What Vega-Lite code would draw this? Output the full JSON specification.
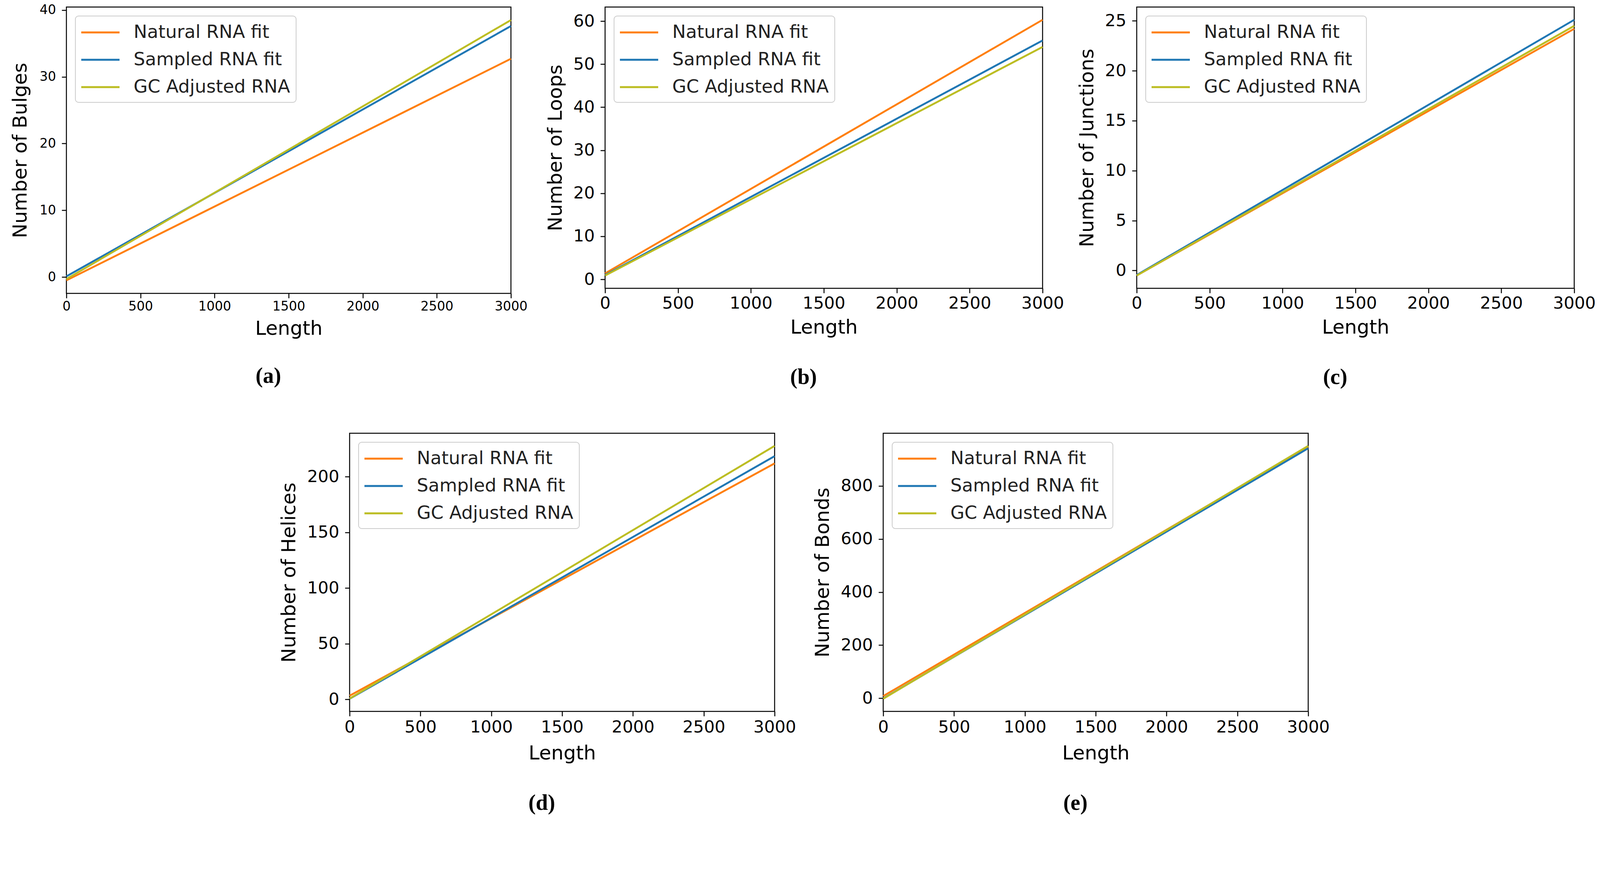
{
  "$schema": "https://vega.github.io/schema/vega-lite/v6.json",
  "padding": {"left": 25, "top": 8, "right": 0, "bottom": 0},
  "background": "white",
  "datasets": {
    "fits": [
      {"panel": "a", "series": "Natural RNA fit", "length": 0, "value": -0.5},
      {"panel": "a", "series": "Natural RNA fit", "length": 3000, "value": 32.7},
      {"panel": "a", "series": "Sampled RNA fit", "length": 0, "value": 0.1},
      {"panel": "a", "series": "Sampled RNA fit", "length": 3000, "value": 37.6},
      {"panel": "a", "series": "GC Adjusted RNA", "length": 0, "value": -0.3},
      {"panel": "a", "series": "GC Adjusted RNA", "length": 3000, "value": 38.5},
      {"panel": "b", "series": "Natural RNA fit", "length": 0, "value": 1.4},
      {"panel": "b", "series": "Natural RNA fit", "length": 3000, "value": 60.3},
      {"panel": "b", "series": "Sampled RNA fit", "length": 0, "value": 1.0},
      {"panel": "b", "series": "Sampled RNA fit", "length": 3000, "value": 55.5},
      {"panel": "b", "series": "GC Adjusted RNA", "length": 0, "value": 0.9},
      {"panel": "b", "series": "GC Adjusted RNA", "length": 3000, "value": 54.0},
      {"panel": "c", "series": "Natural RNA fit", "length": 0, "value": -0.5},
      {"panel": "c", "series": "Natural RNA fit", "length": 3000, "value": 24.2},
      {"panel": "c", "series": "Sampled RNA fit", "length": 0, "value": -0.45},
      {"panel": "c", "series": "Sampled RNA fit", "length": 3000, "value": 25.1},
      {"panel": "c", "series": "GC Adjusted RNA", "length": 0, "value": -0.5},
      {"panel": "c", "series": "GC Adjusted RNA", "length": 3000, "value": 24.5},
      {"panel": "d", "series": "Natural RNA fit", "length": 0, "value": 3.2},
      {"panel": "d", "series": "Natural RNA fit", "length": 3000, "value": 212},
      {"panel": "d", "series": "Sampled RNA fit", "length": 0, "value": 0.5},
      {"panel": "d", "series": "Sampled RNA fit", "length": 3000, "value": 218.5},
      {"panel": "d", "series": "GC Adjusted RNA", "length": 0, "value": 0.7},
      {"panel": "d", "series": "GC Adjusted RNA", "length": 3000, "value": 227.7},
      {"panel": "e", "series": "Natural RNA fit", "length": 0, "value": 8},
      {"panel": "e", "series": "Natural RNA fit", "length": 3000, "value": 948},
      {"panel": "e", "series": "Sampled RNA fit", "length": 0, "value": -1},
      {"panel": "e", "series": "Sampled RNA fit", "length": 3000, "value": 942},
      {"panel": "e", "series": "GC Adjusted RNA", "length": 0, "value": -2},
      {"panel": "e", "series": "GC Adjusted RNA", "length": 3000, "value": 951}
    ]
  },
  "vconcat": [
    {
      "hconcat": [
        {
          "width": 1138, "height": 733,
          "data": {"name": "fits"},
          "transform": [{"filter": "datum.panel === 'a'"}],
          "title": {"text": "(a)", "dx": -52, "offset": 70},
          "mark": {"type": "line", "strokeWidth": 4.8},
          "encoding": {
            "x": {"field": "length", "type": "quantitative", "scale": {"domain": [0, 3000], "nice": false}, "axis": {"title": "Length", "values": [0, 500, 1000, 1500, 2000, 2500, 3000], "format": "d", "labelFontSize": 33}},
            "y": {"field": "value", "type": "quantitative", "scale": {"domain": [-2.45, 40.45], "nice": false, "zero": false}, "axis": {"title": "Number of Bulges", "values": [0, 10, 20, 30, 40], "format": "d", "labelFontSize": 33, "labelPadding": 15, "titlePadding": 24}},
            "color": {"field": "series", "type": "nominal", "scale": {"domain": ["Natural RNA fit", "Sampled RNA fit", "GC Adjusted RNA"], "range": ["#ff7f0e", "#1f77b4", "#bcbd22"]}, "legend": {"title": null}}
          }
        },
        {
          "width": 1120, "height": 720,
          "data": {"name": "fits"},
          "transform": [{"filter": "datum.panel === 'b'"}],
          "title": {"text": "(b)", "dx": -52},
          "mark": {"type": "line", "strokeWidth": 4.8},
          "encoding": {
            "x": {"field": "length", "type": "quantitative", "scale": {"domain": [0, 3000], "nice": false}, "axis": {"title": "Length", "values": [0, 500, 1000, 1500, 2000, 2500, 3000], "format": "d"}},
            "y": {"field": "value", "type": "quantitative", "scale": {"domain": [-2.07, 63.27], "nice": false, "zero": false}, "axis": {"title": "Number of Loops", "values": [0, 10, 20, 30, 40, 50, 60], "format": "d", "labelPadding": 15}},
            "color": {"field": "series", "type": "nominal", "scale": {"domain": ["Natural RNA fit", "Sampled RNA fit", "GC Adjusted RNA"], "range": ["#ff7f0e", "#1f77b4", "#bcbd22"]}, "legend": {"title": null}}
          }
        },
        {
          "width": 1120, "height": 720,
          "data": {"name": "fits"},
          "transform": [{"filter": "datum.panel === 'c'"}],
          "title": {"text": "(c)", "dx": -52},
          "mark": {"type": "line", "strokeWidth": 4.8},
          "encoding": {
            "x": {"field": "length", "type": "quantitative", "scale": {"domain": [0, 3000], "nice": false}, "axis": {"title": "Length", "values": [0, 500, 1000, 1500, 2000, 2500, 3000], "format": "d"}},
            "y": {"field": "value", "type": "quantitative", "scale": {"domain": [-1.78, 26.38], "nice": false, "zero": false}, "axis": {"title": "Number of Junctions", "values": [0, 5, 10, 15, 20, 25], "format": "d", "labelPadding": 15}},
            "color": {"field": "series", "type": "nominal", "scale": {"domain": ["Natural RNA fit", "Sampled RNA fit", "GC Adjusted RNA"], "range": ["#ff7f0e", "#1f77b4", "#bcbd22"]}, "legend": {"title": null}}
          }
        }
      ],
      "spacing": 241,
      "bounds": "flush",
      "resolve": {"scale": {"color": "independent"}, "legend": {"color": "independent"}}
    },
    {
      "hconcat": [
        {
          "width": 447, "height": 10,
          "data": {"values": []},
          "mark": {"type": "point", "opacity": 0},
          "view": {"stroke": null}
        },
        {
          "width": 1088, "height": 712,
          "data": {"name": "fits"},
          "transform": [{"filter": "datum.panel === 'd'"}],
          "title": {"text": "(d)", "dx": -52, "offset": 76},
          "mark": {"type": "line", "strokeWidth": 4.8},
          "encoding": {
            "x": {"field": "length", "type": "quantitative", "scale": {"domain": [0, 3000], "nice": false}, "axis": {"title": "Length", "values": [0, 500, 1000, 1500, 2000, 2500, 3000], "format": "d", "labelPadding": 7, "titlePadding": 20}},
            "y": {"field": "value", "type": "quantitative", "scale": {"domain": [-10.86, 239.06], "nice": false, "zero": false}, "axis": {"title": "Number of Helices", "values": [0, 50, 100, 150, 200], "format": "d", "labelPadding": 15}},
            "color": {"field": "series", "type": "nominal", "scale": {"domain": ["Natural RNA fit", "Sampled RNA fit", "GC Adjusted RNA"], "range": ["#ff7f0e", "#1f77b4", "#bcbd22"]}, "legend": {"title": null}}
          }
        },
        {
          "width": 1088, "height": 712,
          "data": {"name": "fits"},
          "transform": [{"filter": "datum.panel === 'e'"}],
          "title": {"text": "(e)", "dx": -52, "offset": 76},
          "mark": {"type": "line", "strokeWidth": 4.8},
          "encoding": {
            "x": {"field": "length", "type": "quantitative", "scale": {"domain": [0, 3000], "nice": false}, "axis": {"title": "Length", "values": [0, 500, 1000, 1500, 2000, 2500, 3000], "format": "d", "labelPadding": 7, "titlePadding": 20}},
            "y": {"field": "value", "type": "quantitative", "scale": {"domain": [-49.65, 998.65], "nice": false, "zero": false}, "axis": {"title": "Number of Bonds", "values": [0, 200, 400, 600, 800], "format": "d", "labelPadding": 15}},
            "color": {"field": "series", "type": "nominal", "scale": {"domain": ["Natural RNA fit", "Sampled RNA fit", "GC Adjusted RNA"], "range": ["#ff7f0e", "#1f77b4", "#bcbd22"]}, "legend": {"title": null}}
          }
        }
      ],
      "spacing": 278,
      "bounds": "flush",
      "resolve": {"scale": {"color": "independent"}, "legend": {"color": "independent"}}
    }
  ],
  "spacing": 111,
  "resolve": {"scale": {"color": "independent"}, "legend": {"color": "independent"}},
  "config": {
    "font": "DejaVu Sans",
    "view": {"stroke": "black", "strokeWidth": 2.5},
    "axis": {
      "domain": false, "grid": false, "labelFlush": false,
      "tickColor": "black", "tickSize": 12, "tickWidth": 2.5,
      "labelColor": "black", "labelFontSize": 43, "labelPadding": 5,
      "titleColor": "black", "titleFontSize": 50, "titleFontWeight": "normal", "titlePadding": 15
    },
    "axisY": {"titlePadding": 20},
    "legend": {
      "orient": "top-left", "offset": 23,
      "fillColor": "white", "strokeColor": "#cccccc", "strokeWidth": 2, "cornerRadius": 8, "padding": 15,
      "labelFontSize": 46.5, "labelColor": "#222222", "labelOffset": 58, "labelLimit": 2000,
      "symbolType": "M-2,0H2", "symbolSize": 2401, "symbolStrokeWidth": 5, "symbolOffset": 22,
      "rowPadding": 19
    },
    "title": {
      "orient": "bottom", "anchor": "middle", "font": "Liberation Serif", "fontSize": 56,
      "fontWeight": "bold", "color": "black", "offset": 76
    }
  }
}
